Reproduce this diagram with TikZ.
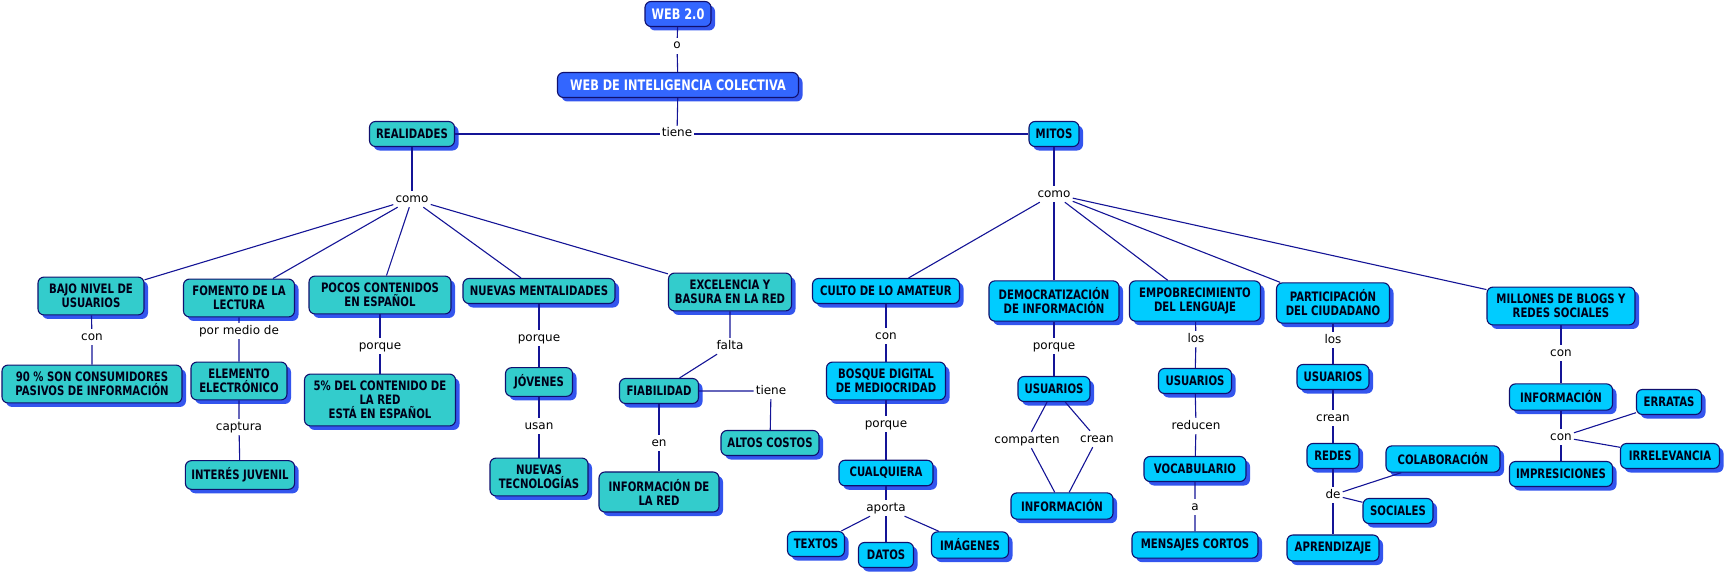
\documentclass[tikz,border=0pt]{standalone}
\usepackage{fontspec}
\setmainfont{DejaVu Sans}
\newfontfamily\boxfont{DejaVu Sans}[FakeStretch=0.78]
\usetikzlibrary{shadows}

\definecolor{realfill}{RGB}{51,204,204}
\definecolor{mythfill}{RGB}{0,204,255}
\definecolor{headfill}{RGB}{51,102,255}
\definecolor{edgeblue}{RGB}{16,16,110}
\definecolor{wireblue}{RGB}{20,20,150}
\definecolor{shadeblue}{RGB}{51,85,238}

\begin{document}
\begin{tikzpicture}[x=1pt, y=-1pt]

		\tikzstyle{concept}=[rectangle, rounded corners=6pt, draw=edgeblue, line width=1.1pt, align=center, text=black!90!blue, font=\boxfont\bfseries\fontsize{13}{14}\selectfont, inner xsep=6pt, inner ysep=7pt, minimum height=25pt, drop shadow={shadow xshift=4pt, shadow yshift=-4pt, fill=shadeblue, opacity=1}]
		\tikzstyle{real}=[concept, fill=realfill]
		\tikzstyle{myth}=[concept, fill=mythfill]
		\tikzstyle{head}=[concept, fill=headfill, text=white, font=\boxfont\bfseries\fontsize{14.5}{16}\selectfont]
		\tikzstyle{link}=[font=\fontsize{12}{14}\selectfont, inner sep=2pt, text height=9pt, text depth=3pt]
		\tikzstyle{wire}=[draw=wireblue, line width=1.1pt]

		\useasboundingbox (0,0) rectangle (1726,575);

		% top of the map
		\node[head, minimum width=66pt] (web) at (678,14) {WEB 2.0};
		\node[link] (o) at (677,46) {o};
		\node[head, minimum width=241pt] (wdi) at (678,85) {WEB DE INTELIGENCIA COLECTIVA};
		\node[link] (tiene) at (677,134) {tiene};
		\node[real, minimum width=85pt] (real) at (412,134) {REALIDADES};
		\node[myth, minimum width=50pt] (mitos) at (1054,134) {MITOS};
		\node[link] (comoL) at (412,199) {como};
		\node[link] (comoR) at (1054,194) {como};

		% realidades
		\node[real, minimum width=106pt] (bajo) at (91,296) {BAJO NIVEL DE\\USUARIOS};
		\node[link] (con1) at (92,337) {con};
		\node[real, minimum width=180pt] (noventa) at (92,384) {90 \% SON CONSUMIDORES\\PASIVOS DE INFORMACIÓN};
		\node[real, minimum width=111pt] (fomento) at (239,298) {FOMENTO DE LA\\LECTURA};
		\node[link] (pormedio) at (239,331) {por medio de};
		\node[real, minimum width=96pt] (elemento) at (239,381) {ELEMENTO\\ELECTRÓNICO};
		\node[link] (captura) at (239,427) {captura};
		\node[real, minimum width=108pt] (interes) at (240,475) {INTERÉS JUVENIL};
		\node[real, minimum width=142pt] (pocos) at (380,295) {POCOS CONTENIDOS\\EN ESPAÑOL};
		\node[link] (porque1) at (380,346) {porque};
		\node[real, minimum width=151pt] (cinco) at (380,400) {5\% DEL CONTENIDO DE\\LA RED\\ESTÁ EN ESPAÑOL};
		\node[real, minimum width=152pt] (nuevasm) at (539,291) {NUEVAS MENTALIDADES};
		\node[link] (porque2) at (539,338) {porque};
		\node[real, minimum width=67pt] (jovenes) at (539,382) {JÓVENES};
		\node[link] (usan) at (539,426) {usan};
		\node[real, minimum width=98pt] (nuevast) at (539,477) {NUEVAS\\TECNOLOGÍAS};
		\node[real, minimum width=123pt] (excel) at (730,292) {EXCELENCIA Y\\BASURA EN LA RED};
		\node[link] (falta) at (730,346) {falta};
		\node[real, minimum width=79pt] (fiab) at (659,391) {FIABILIDAD};
		\node[link] (tiene2) at (771,391) {tiene};
		\node[real, minimum width=98pt] (altos) at (770,443) {ALTOS COSTOS};
		\node[link] (en) at (659,443) {en};
		\node[real, minimum width=120pt] (infored) at (659,492) {INFORMACIÓN DE\\LA RED};

		% mitos
		\node[myth, minimum width=147pt] (culto) at (886,291) {CULTO DE LO AMATEUR};
		\node[link] (con2) at (886,336) {con};
		\node[myth, minimum width=119pt] (bosque) at (886,381) {BOSQUE DIGITAL\\DE MEDIOCRIDAD};
		\node[link] (porque3) at (886,424) {porque};
		\node[myth, minimum width=94pt] (cualq) at (886,473) {CUALQUIERA};
		\node[link] (aporta) at (886,508) {aporta};
		\node[myth, minimum width=57pt] (textos) at (816,544) {TEXTOS};
		\node[myth, minimum width=55pt] (datos) at (886,555) {DATOS};
		\node[myth, minimum width=77pt] (imagenes) at (970,545) {IMÁGENES};
		\node[myth, minimum width=130pt] (democ) at (1054,301) {DEMOCRATIZACIÓN\\DE INFORMACIÓN};
		\node[link] (porque4) at (1054,346) {porque};
		\node[myth, minimum width=72pt] (usu1) at (1054,389) {USUARIOS};
		\node[link] (comparten) at (1027,440) {comparten};
		\node[link] (crean1) at (1097,439) {crean};
		\node[myth, minimum width=102pt] (info1) at (1062,506) {INFORMACIÓN};
		\node[myth, minimum width=131pt] (empob) at (1195,301) {EMPOBRECIMIENTO\\DEL LENGUAJE};
		\node[link] (los1) at (1196,339) {los};
		\node[myth, minimum width=73pt] (usu2) at (1195,381) {USUARIOS};
		\node[link] (reducen) at (1196,426) {reducen};
		\node[myth, minimum width=102pt] (vocab) at (1195,469) {VOCABULARIO};
		\node[link] (a) at (1195,507) {a};
		\node[myth, minimum width=126pt] (mensajes) at (1195,545) {MENSAJES CORTOS};
		\node[myth, minimum width=113pt] (partic) at (1333,303) {PARTICIPACIÓN\\DEL CIUDADANO};
		\node[link] (los2) at (1333,340) {los};
		\node[myth, minimum width=72pt] (usu3) at (1333,377) {USUARIOS};
		\node[link] (crean2) at (1333,418) {crean};
		\node[myth, minimum width=52pt] (redes) at (1333,456) {REDES};
		\node[link] (de) at (1333,495) {de};
		\node[myth, minimum width=114pt] (colab) at (1443,459) {COLABORACIÓN};
		\node[myth, minimum width=70pt] (sociales) at (1398,511) {SOCIALES};
		\node[myth, minimum width=92pt] (aprend) at (1333,548) {APRENDIZAJE};
		\node[myth, minimum width=148pt] (millones) at (1561,306) {MILLONES DE BLOGS Y\\REDES SOCIALES};
		\node[link] (con3) at (1561,353) {con};
		\node[myth, minimum width=103pt] (info2) at (1561,397) {INFORMACIÓN};
		\node[link] (con4) at (1561,437) {con};
		\node[myth, minimum width=65pt] (erratas) at (1669,402) {ERRATAS};
		\node[myth, minimum width=99pt] (irrelev) at (1670,456) {IRRELEVANCIA};
		\node[myth, minimum width=103pt] (impres) at (1561,474) {IMPRESICIONES};

		% links
		\draw[wire] (web) -- (o) -- (wdi);
		\draw[wire] (wdi) -- (tiene);
		\draw[wire] (real) -- (tiene) -- (mitos);
		\draw[wire] (real) -- (comoL);
		\foreach \n in {bajo, fomento, pocos, nuevasm, excel}
			\draw[wire] (comoL) -- (\n);
		\draw[wire] (mitos) -- (comoR);
		\foreach \n in {culto, democ, empob, partic, millones}
			\draw[wire] (comoR) -- (\n);

		\draw[wire] (bajo) -- (con1) -- (noventa);
		\draw[wire] (fomento) -- (pormedio) -- (elemento) -- (captura) -- (interes);
		\draw[wire] (pocos) -- (porque1) -- (cinco);
		\draw[wire] (nuevasm) -- (porque2) -- (jovenes) -- (usan) -- (nuevast);
		\draw[wire] (excel) -- (falta) -- (fiab);
		\draw[wire] (fiab) -- (tiene2) -- (altos);
		\draw[wire] (fiab) -- (en) -- (infored);

		\draw[wire] (culto) -- (con2) -- (bosque) -- (porque3) -- (cualq) -- (aporta);
		\foreach \n in {textos, datos, imagenes}
			\draw[wire] (aporta) -- (\n);
		\draw[wire] (democ) -- (porque4) -- (usu1);
		\draw[wire] (usu1) -- (comparten) -- (info1);
		\draw[wire] (usu1) -- (crean1) -- (info1);
		\draw[wire] (empob) -- (los1) -- (usu2) -- (reducen) -- (vocab) -- (a) -- (mensajes);
		\draw[wire] (partic) -- (los2) -- (usu3) -- (crean2) -- (redes) -- (de);
		\foreach \n in {colab, sociales, aprend}
			\draw[wire] (de) -- (\n);
		\draw[wire] (millones) -- (con3) -- (info2) -- (con4);
		\foreach \n in {erratas, irrelev, impres}
			\draw[wire] (con4) -- (\n);

\end{tikzpicture}
\end{document}
